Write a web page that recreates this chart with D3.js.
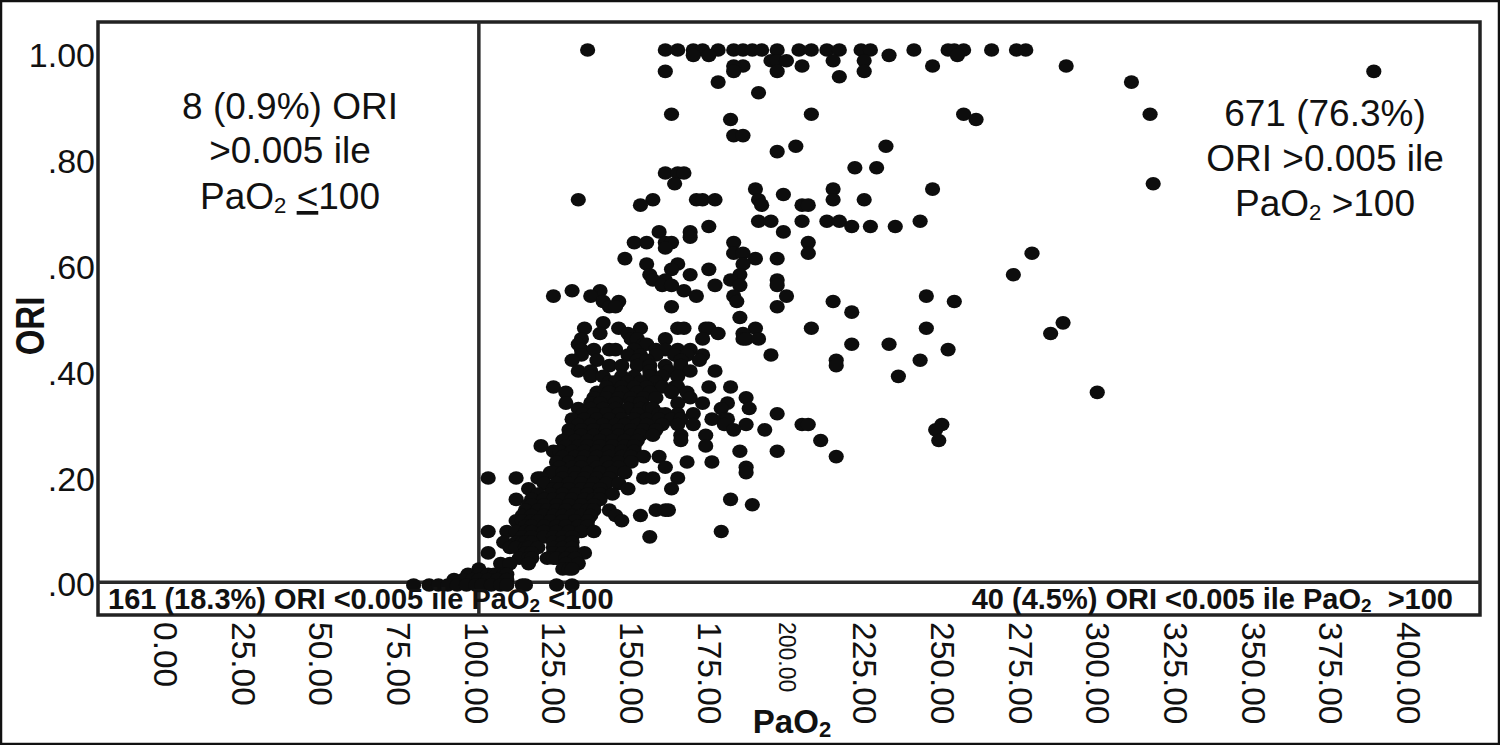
<!DOCTYPE html>
<html><head><meta charset="utf-8">
<script src="https://cdn.jsdelivr.net/npm/d3@7"></script>
<style>html,body{margin:0;padding:0;background:#fff}svg{display:block}text{font-family:"Liberation Sans",Arial,sans-serif;fill:#111}</style>
</head><body><svg id="c" width="1500" height="745"></svg>
<script>
const xTicks=[0,25,50,75,100,125,150,175,200,225,250,275,300,325,350,375,400];
const yTicks=[0,.2,.4,.6,.8,1];
const refPaO2=101, refORI=.005;
const oriLevels=[1,.99,.98,.97,.96,.95,.94,.92,.88,.87,.84,.82,.81,.78,.77,.75,.74,.73,.72,.71,.68,.67,.66,.65,.64,.63,.62,.61,.6,.59,.58,.57,.56,.55,.54,.53,.52,.51,.5,.49,.48,.47,.46,.45,.44,.43,.42,.41,.4,.39,.38,.37,.36,.35,.34,.33,.32,.31,.3,.29,.28,.27,.26,.25,.24,.23,.22,.21,.2,.19,.18,.17,.16,.15,.14,.13,.12,.11,.1,.09,.08,.07,.06,.05,.04,.03,.02,.01,0];
const pao2AtLevel=[
[136,161,165,170,173,178,183,186,189,192,197,204,208,213,217,224,227,241,252,254,257,266,274,277],
[170,175,233,255],
[195,197,200,215,225],
[205,247,186,183,290],
[197,225,183,161,389],
[217],
[178,311],
[191],
[163,208,257,317],
[182,261],
[183,186],
[203,232],
[197],
[222,229],
[161,165,167],
[164,318],
[190,215,247],
[199],
[133,157,171,173,177,191,215,225],
[153,192,205,207],
[191,195,205,213,217,243],
[175,221,227,235],
[199,159,169],
[169],
[151,155,161,163,183,207],
[161],
[183,186,207,279],
[190,197,148],
[186,155,165],
[163,175],
[156,185,169,273],
[161,157,182,197],
[185,177,160,163,197],
[167,131,140],
[171,200,183,125,137,245],
[184,141,146,215,254],
[143,145,163,197],
[221],
[185],
[141,289],
[135,146,153,165,167,174,175,190,208,245],
[140,149,178,186,285],
[134,150,152,161,173,186,187,191],
[133,154,155,221,233],
[134,138,143,145,151,158,161,165,169,252],
[134,149,153,158,164,168,173,195],
[131,139,152,155,166,172,216,243],
[143,147,152,156,161,166,216],
[133,137,156,162,169,177],
[137,141,147,151,156,160,165,236],
[143,145,149,153,158],
[125,142,147,151,155,160,164,165,175,182],
[129,139,143,147,152,156,163,168,300],
[138,142,146,150,154,158,169,187],
[129,137,140,145,150,153,165,173,181],
[133,137,141,145,149,153,156,157,179,188],
[134.5,138,142,146,152,159,161,165,170,197],
[131,135,139,143,147,151,155,159,163,166,176,180,181],
[133,137,141,145,148,152,155,160,165,170,180,187,205,207,250],
[130,134,138,142,146,150,154,158,183,193,248],
[130,134,138,142,146,150,153,157,166,174],
[128,132,136,140,144,148,152,166,211,249],
[121,129,133,136,140,144,148,151,174],
[125,127,131,135,139,143,147,151,185,197],
[128,132,135,139,143,147,150,154,159,216],
[126,130,134,138,142,146,150,168,176],
[127,131,134,139,143,146,161,187],
[124,125,128,132,136,140,144,148,187],
[104,113,120,121,128,132,135,139,143,154,157,165],
[122,126,130,134,138,142,146],
[117,125,127,130,134,137,140,149,163],
[120,124,128,132,136,140,144],
[113,118,122,125,128,131,135,138,140,182],
[117,118,122,126,130,134,138,189],
[116,120,123,126,129,133,136,138,143,158,161,162],
[115,118,122,125,128,131,134,137,145,153],
[113,115,118,120,124,128,132,136,147],
[116,118,122,126,129,133,136],
[104,110,113,116,118,122,126,130,134,138,179],
[115,118,122,125,128,131,156],
[109,113,115,116,118,125,128,131],
[111,113,116,117,120,125,128,131],
[104,116,118,125,128,131,135],
[114,117,118,123,125,126,129,132],
[108,111,117,129,133],
[101,128,130,131],
[97.5,101,104,106,107,109,110],
[93,96,99,101,104,107,110],
[80,85,88,91,94,97,100,102,105,108,110,115,116,126,131]
];

const svg=d3.select("#c");
const x=d3.scaleLinear().domain([0,400]).range([165,1408]);
const y=d3.scaleLinear().domain([0,1]).range([585,50]);
const yLabel=d3.scaleLinear().domain([0,1]).range([585,56]);
const box={l:98,t:22,r:1480,b:615};

svg.append("rect").attr("x",1).attr("y",1).attr("width",1498).attr("height",743)
  .attr("fill","#fff").attr("stroke","#111").attr("stroke-width",2.5);
svg.append("rect").attr("x",box.l).attr("y",box.t).attr("width",box.r-box.l).attr("height",box.b-box.t)
  .attr("fill","#fff").attr("stroke","#222").attr("stroke-width",3.5);
svg.append("line").attr("x1",x(refPaO2)).attr("x2",x(refPaO2)).attr("y1",box.t).attr("y2",box.b)
  .attr("stroke","#2a2a2a").attr("stroke-width",3.5);
svg.append("line").attr("x1",box.l).attr("x2",box.r).attr("y1",y(refORI)).attr("y2",y(refORI))
  .attr("stroke","#2a2a2a").attr("stroke-width",3.5);

const points=oriLevels.flatMap((o,i)=>pao2AtLevel[i].map(p=>({p,o})));
svg.append("g").selectAll("ellipse").data(points).join("ellipse")
  .attr("cx",d=>x(d.p)).attr("cy",d=>y(d.o)).attr("rx",7.6).attr("ry",6.8).attr("fill","#0d0d0d");

// axes
const yAxis=svg.append("g").attr("transform","translate(95,0)")
  .call(d3.axisLeft(yLabel).tickValues(yTicks).tickSize(0).tickPadding(0)
    .tickFormat(d=>d===1?"1.00":d3.format(".2f")(d).replace(/^0/,"")));
yAxis.select(".domain").remove();
yAxis.selectAll("text").attr("font-size",34).style("font-family",'"Liberation Sans"');

const xAxis=svg.append("g").attr("transform",`translate(0,${box.b})`)
  .call(d3.axisBottom(x).tickValues(xTicks).tickSize(0).tickFormat(d3.format(".2f")));
xAxis.select(".domain").remove();
xAxis.selectAll("text")
  .attr("font-size",d=>d===200?23:33.5)
  .style("font-family",'"Liberation Sans"')
  .attr("text-anchor","start")
  .attr("dy",0).attr("y",0).attr("x",0)
  .attr("dominant-baseline","central")
  .attr("transform","translate(0,7) rotate(90)");

// titles
svg.append("text").attr("transform","translate(30,326) rotate(-90) scale(1,1.25)").attr("text-anchor","middle")
  .attr("dominant-baseline","central").attr("font-size",33).attr("font-weight","bold").text("ORI");
const t=svg.append("text").attr("x",792).attr("y",733).attr("text-anchor","middle").attr("font-size",33).attr("font-weight","bold");
t.append("tspan").text("PaO");t.append("tspan").attr("font-size",22).attr("dy",4).text("2");

function pao(sel,after,under){
  sel.append("tspan").text("PaO");
  sel.append("tspan").attr("font-size","0.6em").attr("dy","0.2em").text("2");
  if(under){
    sel.append("tspan").attr("dy","-0.12em").text(" ");
    sel.append("tspan").attr("text-decoration","underline").text("<");
    sel.append("tspan").text(after);
  } else sel.append("tspan").attr("dy","-0.12em").text(after);
}
const big=(cx,cy,s)=>svg.append("text").attr("x",cx).attr("y",cy).attr("text-anchor","middle").attr("font-size",37).text(s||null);
big(290,119,"8 (0.9%) ORI");
big(290,163,">0.005 ile");
pao(big(290,209),"100",true);
big(1325,126,"671 (76.3%)");
big(1325,171,"ORI >0.005 ile");
pao(big(1325,216)," >100",false);

function small(xp,anchor,pre,post){
  const s=svg.append("text").attr("x",xp).attr("y",609).attr("text-anchor",anchor).attr("font-size",29).attr("font-weight","bold");
  s.append("tspan").text(pre);
  s.append("tspan").attr("font-size",19).attr("dy",3).text("2");
  s.append("tspan").attr("dy",-3).text(post);
}
small(108,"start","161 (18.3%) ORI <0.005 ile PaO"," <100");
small(1453,"end","40 (4.5%) ORI <0.005 ile PaO","\u00a0 >100");
</script></body></html>
